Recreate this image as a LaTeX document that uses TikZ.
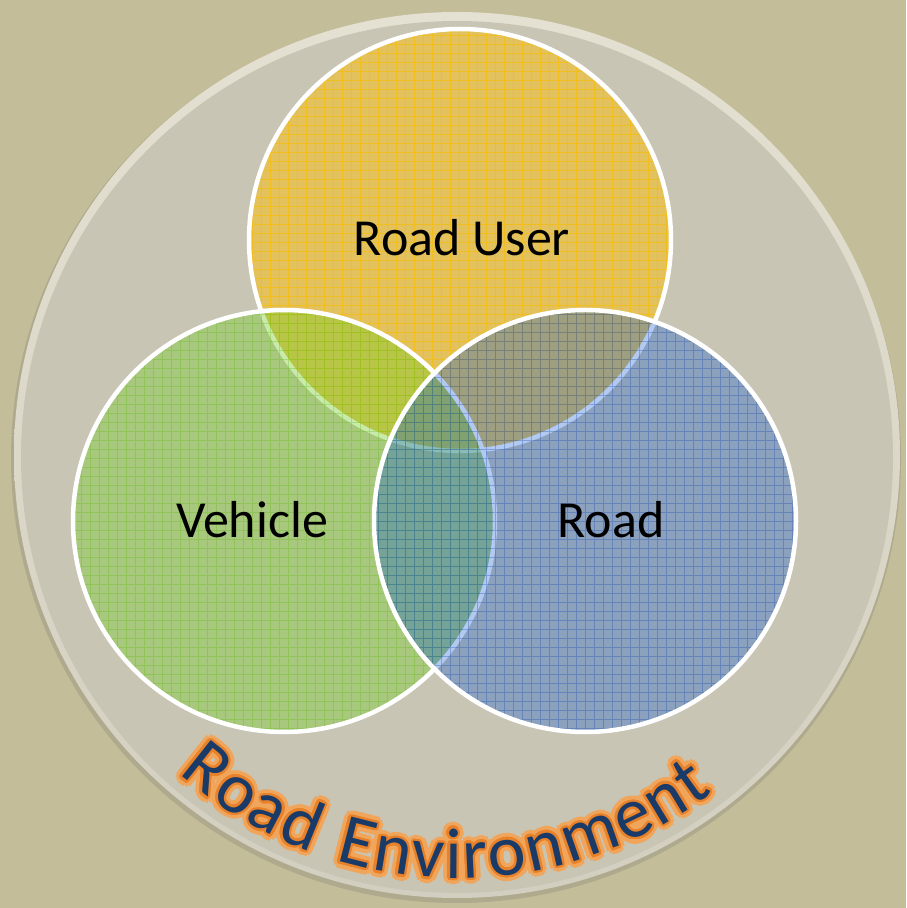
\documentclass[tikz,border=0pt]{standalone}
\usepackage{fontspec}
\newfontfamily\carlito{Carlito}
\usetikzlibrary{decorations.text}
\definecolor{bgtan}{RGB}{196,189,153}
\definecolor{discgrey}{RGB}{200,197,181}
\definecolor{rimlight}{RGB}{228,225,210}
\definecolor{rimlow}{RGB}{210,207,193}
\definecolor{shadowgrey}{RGB}{150,147,130}
\definecolor{ufill}{RGB}{227,194,93}
\definecolor{ugrid}{RGB}{245,190,20}
\definecolor{vfill}{RGB}{120,205,42}
\definecolor{vgrid}{RGB}{100,190,30}
\definecolor{rfill}{RGB}{0,80,213}
\definecolor{rgrid}{RGB}{30,80,180}
\definecolor{envblue}{RGB}{26,58,104}
\definecolor{envorange}{RGB}{232,130,42}
\definecolor{envglow}{RGB}{240,165,90}
\newcommand\envfont{\carlito\fontsize{72}{80}\selectfont}
\newcommand\lk{\kern2pt}
\newcommand\envpass[2]{\path[decorate, decoration={text along path, text={|\envfont|{R\lk}{o\lk}{a\lk}{d\kern9pt} {E\lk}{n\lk}{v\lk}{i\lk}{r\lk}{o\lk}{n\lk}{m\lk}{e\lk}{n\lk}{t}}, text align=center, text color=#1}, #2] (457,453) ++(196:423pt) arc[start angle=196, end angle=340, radius=423pt];}
\begin{document}
\begin{tikzpicture}[x=1pt,y=1pt,
  venntext/.style={font=\carlito\fontsize{52}{60}\selectfont, text=black, inner sep=0pt, anchor=base},
  ring/.style={draw=white, line width=4.5pt},
  gridlines/.style={line width=0.7pt, step=9pt}]
\useasboundingbox (0,0) rectangle (906,908);
\fill[bgtan] (0,0) rectangle (906,908);
% outer disc
\fill[shadowgrey, opacity=0.45] (456,450) circle[radius=445pt];
\shade[top color=rimlight, bottom color=rimlow] (457,453) circle[radius=443pt];
\fill[discgrey] (457,451) circle[radius=436pt];
% Road User (yellow)
\fill[ufill] (460,668) circle[radius=211pt];
\begin{scope}
\clip (460,668) circle[radius=211pt];
\draw[gridlines, ugrid, opacity=0.8] (0,0) grid (906,908);
\end{scope}
\draw[ring] (460,668) circle[radius=211pt];
% Vehicle (green)
\fill[vfill, opacity=0.4] (284,387) circle[radius=211pt];
\begin{scope}
\clip (284,387) circle[radius=211pt];
\draw[gridlines, vgrid, opacity=0.35] (0,0) grid (906,908);
\end{scope}
\draw[ring] (284,387) circle[radius=211pt];
% Road (blue)
\fill[rfill, opacity=0.3] (585,387) circle[radius=211pt];
\begin{scope}
\clip (585,387) circle[radius=211pt];
\draw[gridlines, rgrid, opacity=0.35] (0,0) grid (906,908);
\end{scope}
\draw[ring] (585,387) circle[radius=211pt];
% labels
\node[venntext] (ru) at (462,652) {Road User};
\node[venntext] (veh) at (252,370) {Vehicle};
\node[venntext] (rd) at (611,370) {Road};
% curved environment label
\foreach \a in {0,30,...,330} {\envpass{envglow}{shift={(\a:6.5pt)}, opacity=0.15}}
\foreach \a in {0,30,...,330} {\envpass{envglow}{shift={(\a:4.5pt)}, opacity=0.3}}
\foreach \a in {0,20,...,340} {\envpass{envorange}{shift={(\a:2.4pt)}}}
\envpass{envblue}{}
\end{tikzpicture}
\end{document}
